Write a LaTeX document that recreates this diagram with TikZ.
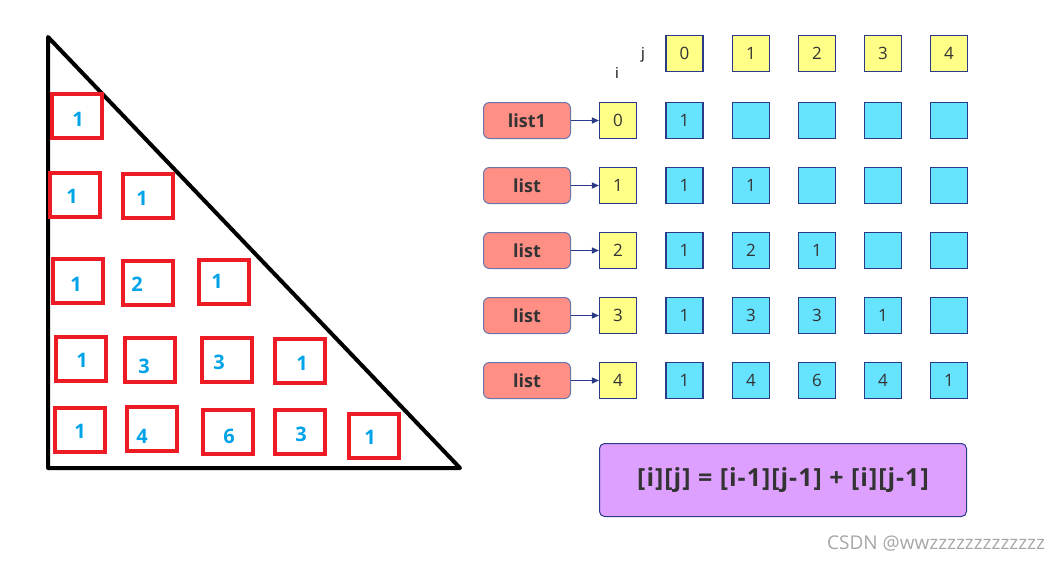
\documentclass[tikz,border=0pt]{standalone}
\usepackage{fontspec}
\setmainfont{Open Sans}
\usetikzlibrary{arrows.meta}
\definecolor{redbox}{HTML}{ED1C24}
\definecolor{bluetxt}{HTML}{00A2E8}
\definecolor{navy}{HTML}{2B3A86}
\definecolor{yel}{HTML}{FFFF88}
\definecolor{cyanf}{HTML}{66E3FF}
\definecolor{salmon}{HTML}{FF8E85}
\definecolor{violetf}{HTML}{DDA0FF}
\definecolor{txt}{HTML}{333333}
\definecolor{wm}{HTML}{A6A6A6}
\tikzset{
  redcell/.style={draw=redbox, line width=4pt, minimum width=50pt, minimum height=44pt, inner sep=0pt},
  bluedigit/.style={text=bluetxt, font=\fontsize{20}{20}\selectfont\bfseries, inner sep=0pt},
  ycell/.style={draw=navy, fill=yel, line width=1.1pt, minimum width=37pt, minimum height=36pt, inner sep=0pt, text=txt, font=\fontsize{17}{17}\selectfont},
  ccell/.style={ycell, fill=cyanf},
  listbox/.style={draw=navy!70, fill=salmon, line width=1pt, rounded corners=6pt, minimum width=87pt, minimum height=36pt, inner sep=0pt, text=txt, font=\fontsize{18}{18}\selectfont\bfseries},
  ptr/.style={draw=navy, line width=1.2pt, -{Triangle[length=7pt,width=6pt]}},
  formula/.style={draw=navy, fill=violetf, line width=1pt, rounded corners=5pt, minimum width=367pt, minimum height=73pt, inner sep=0pt, text=txt, font=\fontsize{25}{25}\selectfont\bfseries\addfontfeature{LetterSpace=4}},
}
\begin{document}
\begin{tikzpicture}[x=1pt,y=-1pt]
\useasboundingbox (0,0) rectangle (1062,562);
% triangle
\coordinate (T1) at (48,37);
\coordinate (T2) at (48,468);
\coordinate (T3) at (460,468);
\draw[line width=4pt, line join=round] (T1) -- (T2) -- (T3) -- cycle;
% red boxes
\foreach \n/\x/\y in {a/77/115.5, b/75/194.5, c/147.5/196, d/78/281, e/147.5/283, f/224/282, g/81/359, h/149.5/360, k/227/360, l/300/361, m/80/429.5, n/152/429, o/228/432, p/299.5/432, q/374/436}
  \node[redcell] (r\n) at (\x,\y) {};
% digits
\foreach \n/\x/\y/\v in {a/78/119/1, b/72/196/1, c/142/198/1, d/76/284/1, e/137/284/2, f/217/281/1, g/82/360/1, h/144/366/3, k/219/362/3, l/302/363/1, m/80/431/1, n/142/436/4, o/229/436/6, p/301/434/3, q/370/437/1}
  \node[bluedigit] (d\n) at (\x,\y) {\v};
% header labels
\node[font=\fontsize{15}{15}\selectfont, inner sep=0pt] (jlab) at (643,55) {j};
\node[font=\fontsize{15}{15}\selectfont, inner sep=0pt] (ilab) at (617,73) {i};
% header row
\foreach \c/\x in {0/684.5, 1/751, 2/817, 3/883, 4/949}
  \node[ycell] (h\c) at (\x,53.5) {\c};
% rows
\foreach \r/\y/\lab in {0/120.5/list1, 1/185.5/list, 2/250.5/list, 3/315.5/list, 4/380.5/list} {
  \node[listbox] (L\r) at (527,\y) {\lab};
  \node[ycell] (I\r) at (618,\y) {\r};
  \draw[ptr] (L\r.east) -- (I\r.west);
}
% grid cells
\foreach \r/\y/\va/\vb/\vc/\vd/\ve in {0/120.5/1////, 1/185.5/1/1///, 2/250.5/1/2/1//, 3/315.5/1/3/3/1/, 4/380.5/1/4/6/4/1} {
  \node[ccell] (c\r-0) at (684.5,\y) {\va};
  \node[ccell] (c\r-1) at (751,\y) {\vb};
  \node[ccell] (c\r-2) at (817,\y) {\vc};
  \node[ccell] (c\r-3) at (883,\y) {\vd};
  \node[ccell] (c\r-4) at (949,\y) {\ve};
}
% formula
\node[formula] (F) at (783,480) {[i][j] = [i-1][j-1] + [i][j-1]};
% watermark
\node[text=wm, font=\fontsize{19}{19}\selectfont, inner sep=0pt, anchor=west] (wmk) at (827,543) {CSDN @wwzzzzzzzzzzzzz};
\end{tikzpicture}
\end{document}
